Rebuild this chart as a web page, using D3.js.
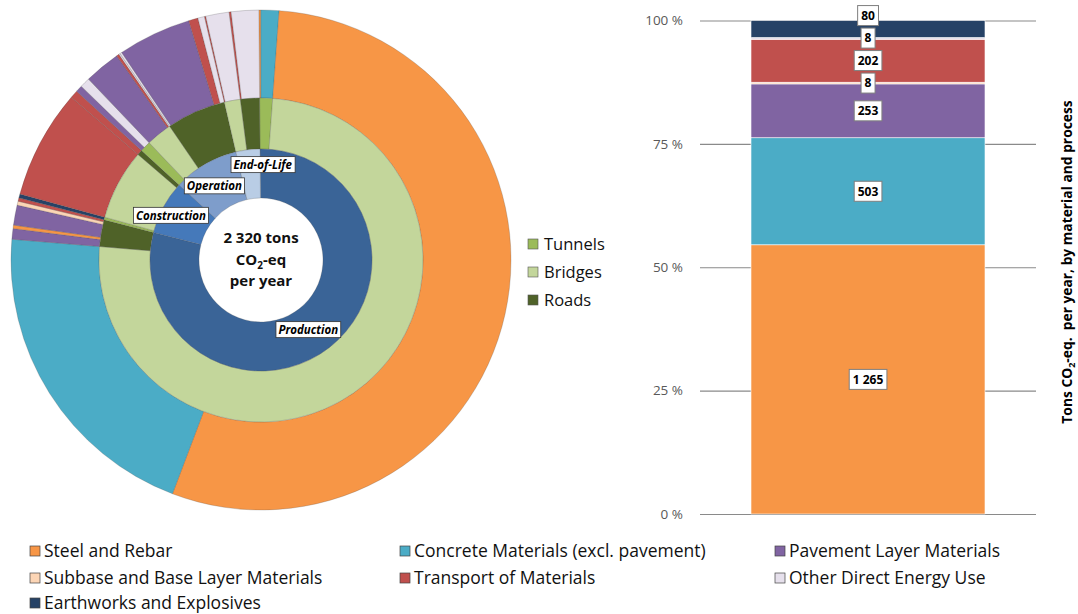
<!DOCTYPE html>
<html>
<head>
<meta charset="utf-8">
<script src="https://cdn.jsdelivr.net/npm/d3@7"></script>
<style>
  html, body { margin: 0; padding: 0; background: #fff; }
  svg { display: block; font-family: "Open Sans", Lato, sans-serif; }
</style>
</head>
<body>
<svg id="chart" width="1078" height="614"></svg>
<script>
// ---- Data ---------------------------------------------------------------
const processes = ["Production", "Construction", "Operation", "End-of-Life"];
const roadTypes = ["Tunnels", "Bridges", "Roads"];
const materials = [
  "Steel and Rebar",
  "Concrete Materials (excl. pavement)",
  "Pavement Layer Materials",
  "Subbase and Base Layer Materials",
  "Transport of Materials",
  "Other Direct Energy Use",
  "Earthworks and Explosives"
];

// Sunburst leaves: [process, road type, material, tons CO2-eq per year]
const sunburstLeaves = [
  ["Production", "Tunnels", "Steel and Rebar", 3],
  ["Production", "Tunnels", "Concrete Materials (excl. pavement)", 27],
  ["Production", "Bridges", "Steel and Rebar", 1267],
  ["Production", "Bridges", "Concrete Materials (excl. pavement)", 477],
  ["Production", "Roads", "Pavement Layer Materials", 16],
  ["Production", "Roads", "Steel and Rebar", 5],
  ["Production", "Roads", "Pavement Layer Materials", 30],
  ["Production", "Roads", "Subbase and Base Layer Materials", 6],
  ["Production", "Roads", "Transport of Materials", 5],
  ["Construction", "Tunnels", "Earthworks and Explosives", 6],
  ["Construction", "Bridges", "Transport of Materials", 163],
  ["Construction", "Roads", "Transport of Materials", 12],
  ["Operation", "Tunnels", "Pavement Layer Materials", 10],
  ["Operation", "Tunnels", "Other Direct Energy Use", 15],
  ["Operation", "Bridges", "Pavement Layer Materials", 54],
  ["Operation", "Bridges", "Transport of Materials", 4],
  ["Operation", "Bridges", "Other Direct Energy Use", 2],
  ["Operation", "Roads", "Other Direct Energy Use", 3],
  ["Operation", "Roads", "Pavement Layer Materials", 110],
  ["Operation", "Roads", "Transport of Materials", 14],
  ["Operation", "Roads", "Other Direct Energy Use", 10],
  ["End-of-Life", "Bridges", "Transport of Materials", 2],
  ["End-of-Life", "Bridges", "Other Direct Energy Use", 35],
  ["End-of-Life", "Roads", "Transport of Materials", 3],
  ["End-of-Life", "Roads", "Other Direct Energy Use", 41]
];

// Stacked bar: totals per material (bottom to top)
const barMaterials = [
  "Steel and Rebar",
  "Concrete Materials (excl. pavement)",
  "Pavement Layer Materials",
  "Subbase and Base Layer Materials",
  "Transport of Materials",
  "Other Direct Energy Use",
  "Earthworks and Explosives"
];
const barValues = [1265, 503, 253, 8, 202, 8, 80];
const barTicks = [0, 0.25, 0.5, 0.75, 1];
const barTickLabels = ["0 %", "25 %", "50 %", "75 %", "100 %"];

// ---- Colours ------------------------------------------------------------
const materialColors = ["#F79646", "#4BACC6", "#8064A2", "#FCD5B5", "#C0504D", "#E6E0EC", "#264266"];
const processColors = ["#3A6497", "#4579BA", "#7E9DCB", "#B9CDE5"];
const typeColors = ["#9BBB59", "#C3D69B", "#4F6228"];

const matColor = d3.scaleOrdinal(materials, materialColors);
const procColor = d3.scaleOrdinal(processes, processColors);
const typeColor = d3.scaleOrdinal(roadTypes, typeColors);

const svg = d3.select("#chart");

// ---- Sunburst -----------------------------------------------------------
const cx = 261, cy = 260;
const ringRadii = [0, 62, 111, 162, 250];
const rotation = -0.5 * Math.PI / 180;

const tree = {
  name: "total",
  children: processes.map(p => ({
    name: p,
    children: roadTypes
      .map(t => ({
        name: t,
        children: sunburstLeaves
          .filter(l => l[0] === p && l[1] === t)
          .map(l => ({ name: l[2], value: l[3] }))
      }))
      .filter(t => t.children.length)
  }))
};

const root = d3.hierarchy(tree).sum(d => d.value || 0);
d3.partition().size([2 * Math.PI, 4])(root);
const total = root.value;

const arc = d3.arc()
  .startAngle(d => d.x0 + rotation)
  .endAngle(d => d.x1 + rotation)
  .innerRadius(d => ringRadii[d.depth])
  .outerRadius(d => ringRadii[d.depth + 1]);

function nodeColor(d) {
  if (d.depth === 1) return procColor(d.data.name);
  if (d.depth === 2) return typeColor(d.data.name);
  return matColor(d.data.name);
}

const sun = svg.append("g").attr("transform", `translate(${cx},${cy})`);

sun.selectAll("path.seg")
  .data(root.descendants().filter(d => d.depth > 0).sort((a, b) => b.depth - a.depth))
  .join("path")
  .attr("class", "seg")
  .attr("d", arc)
  .attr("fill", nodeColor)
  .attr("stroke", "rgba(70,70,70,0.45)")
  .attr("stroke-width", 0.5);

// Process labels in white boxes
const labelNudge = {
  "Production": [-6, 2],
  "Construction": [-14, -3],
  "Operation": [-3, 1],
  "End-of-Life": [12, -9]
};
const procLabels = sun.selectAll("g.plabel")
  .data(root.children)
  .join("g")
  .attr("class", "plabel")
  .attr("transform", d => {
    const [x, y] = arc.centroid(d);
    const n = labelNudge[d.data.name] || [0, 0];
    return `translate(${x + n[0]},${y + n[1]})`;
  });

procLabels.append("text")
  .attr("text-anchor", "middle")
  .attr("dy", "0.35em")
  .attr("font-size", 11.5)
  .attr("font-weight", "bold")
  .attr("font-style", "italic")
  .attr("fill", "#000")
  .text(d => d.data.name);

procLabels.each(function () {
  const g = d3.select(this);
  const bb = g.select("text").node().getBBox();
  g.insert("rect", "text")
    .attr("x", bb.x - 2.5)
    .attr("y", bb.y - 0.5)
    .attr("width", bb.width + 5)
    .attr("height", bb.height + 1)
    .attr("fill", "#fff")
    .attr("stroke", "#333")
    .attr("stroke-width", 0.8);
});

// Centre total
const centre = sun.append("text")
  .attr("text-anchor", "middle")
  .attr("font-size", 15)
  .attr("font-weight", "bold")
  .attr("fill", "#111");
centre.append("tspan").attr("x", 0).attr("y", -17)
  .text(`${d3.format(",")(total).replace(/,/g, " ")} tons`);
const co2 = centre.append("tspan").attr("x", 0).attr("y", 5);
co2.append("tspan").text("CO");
co2.append("tspan").attr("font-size", 10).attr("dy", 4).text("2");
co2.append("tspan").attr("dy", -4).text("-eq");
centre.append("tspan").attr("x", 0).attr("y", 26).text("per year");

// Road type legend
const typeLegend = svg.append("g").attr("transform", "translate(528,244)");
const tl = typeLegend.selectAll("g")
  .data(roadTypes)
  .join("g")
  .attr("transform", (d, i) => `translate(0,${i * 28})`);
tl.append("rect")
  .attr("x", 0).attr("y", -5).attr("width", 10).attr("height", 10)
  .attr("fill", d => typeColor(d))
  .attr("stroke", "#555").attr("stroke-width", 0.6);
tl.append("text")
  .attr("x", 16).attr("dy", "0.36em")
  .attr("font-size", 16.5)
  .attr("fill", "#111")
  .text(d => d);

// ---- Stacked 100 % bar --------------------------------------------------
const barX0 = 751, barX1 = 985;
const gridX0 = 700, gridX1 = 1036;
const y = d3.scaleLinear().domain([0, 1]).range([514, 20.5]);
const barTotal = d3.sum(barValues);
const cum = [0, ...d3.cumsum(barValues)];
const segments = barValues.map((v, i) => ({
  material: barMaterials[i],
  value: v,
  y0: cum[i] / barTotal,
  y1: cum[i + 1] / barTotal
}));

const axis = d3.axisLeft(y)
  .tickValues(barTicks)
  .tickFormat((d, i) => barTickLabels[i])
  .tickSize(-(gridX1 - gridX0))
  .tickPadding(17);

const axisG = svg.append("g")
  .attr("transform", `translate(${gridX0},0)`)
  .call(axis);
axisG.select(".domain").remove();
axisG.selectAll(".tick line").attr("stroke", "#8a8a8a").attr("stroke-width", 1.2);
axisG.selectAll(".tick text")
  .attr("font-family", "'Open Sans', sans-serif")
  .attr("font-size", 13.5)
  .attr("fill", "#595959");

svg.append("g")
  .selectAll("rect")
  .data(segments)
  .join("rect")
  .attr("x", barX0)
  .attr("width", barX1 - barX0)
  .attr("y", d => y(d.y1))
  .attr("height", d => y(d.y0) - y(d.y1))
  .attr("fill", d => matColor(d.material))
  .attr("stroke", "#fff")
  .attr("stroke-width", 0.6);

// Value labels: centred in each segment, pushed up if they would overlap
const labelGap = 22.5;
const labelY = segments.map(d => y((d.y0 + d.y1) / 2));
for (let i = 1; i < labelY.length; i++) {
  if (labelY[i] > labelY[i - 1] - labelGap) labelY[i] = labelY[i - 1] - labelGap;
}
const barCx = (barX0 + barX1) / 2;
const valLabels = svg.append("g")
  .selectAll("g")
  .data(segments)
  .join("g")
  .attr("transform", (d, i) => `translate(${barCx},${labelY[i]})`);
valLabels.append("text")
  .attr("text-anchor", "middle")
  .attr("dy", "0.36em")
  .attr("font-size", 12)
  .attr("font-weight", "bold")
  .attr("fill", "#000")
  .text(d => d3.format(",")(d.value).replace(/,/g, " "));
valLabels.each(function () {
  const g = d3.select(this);
  const bb = g.select("text").node().getBBox();
  g.insert("rect", "text")
    .attr("x", bb.x - 3.5)
    .attr("y", -10)
    .attr("width", bb.width + 7)
    .attr("height", 20)
    .attr("fill", "#fff")
    .attr("stroke", "#7f7f7f")
    .attr("stroke-width", 1);
});

// Axis title on the right
const title = svg.append("text")
  .attr("transform", "translate(1072,262) rotate(-90)")
  .attr("text-anchor", "middle")
  .attr("font-size", 13.8)
  .attr("font-weight", "bold")
  .attr("fill", "#000");
title.append("tspan").text("Tons CO");
title.append("tspan").attr("font-size", 9).attr("dy", 3).text("2");
title.append("tspan").attr("dy", -3).text("-eq.\u00A0\u00A0per year, by material and process");

// ---- Material legend ----------------------------------------------------
const legendCols = [30, 400, 775];
const legendRows = [551, 578, 603];
const matLegend = svg.append("g")
  .selectAll("g")
  .data(materials)
  .join("g")
  .attr("transform", (d, i) => `translate(${legendCols[i % 3]},${legendRows[Math.floor(i / 3)]})`);
matLegend.append("rect")
  .attr("x", 0).attr("y", -5).attr("width", 10).attr("height", 10)
  .attr("fill", d => matColor(d))
  .attr("stroke", "#444").attr("stroke-width", 0.7);
matLegend.append("text")
  .attr("x", 14).attr("dy", "0.36em")
  .attr("font-size", 17.5)
  .attr("fill", "#111")
  .text(d => d);
</script>
</body>
</html>
